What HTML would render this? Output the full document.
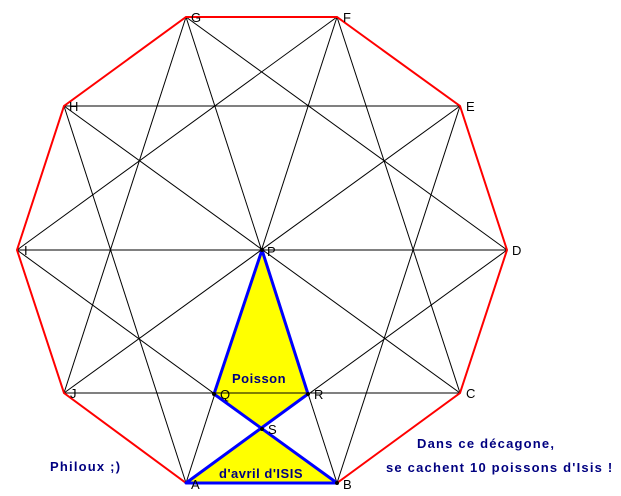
<!DOCTYPE html>
<html><head><meta charset="utf-8"><style>
html,body{margin:0;padding:0;background:#fff;}
svg{display:block;}
.v{font-family:"Liberation Sans",sans-serif;font-size:13px;fill:#000;}
.t{font-family:"Liberation Sans",sans-serif;font-size:13px;font-weight:bold;fill:#000080;letter-spacing:1.2px;}
.s{letter-spacing:0.5px;}
</style></head><body>
<svg width="621" height="496" viewBox="0 0 621 496" xmlns="http://www.w3.org/2000/svg">
<polygon points="262,250 214,394 262,429 308,394" fill="#ffff00"/>
<polygon points="186,483 262,429 337,483" fill="#ffff00"/>
<g stroke="#000" stroke-width="1" fill="none">
<line x1="64" y1="106" x2="460" y2="106"/>
<line x1="17" y1="250" x2="507" y2="250"/>
<line x1="64" y1="393" x2="460" y2="393"/>
<line x1="186" y1="483" x2="337" y2="17"/>
<line x1="337" y1="483" x2="186" y2="17"/>
<line x1="460" y1="393" x2="64" y2="106"/>
<line x1="460" y1="106" x2="64" y2="393"/>
<line x1="186" y1="483" x2="507" y2="250"/>
<line x1="186" y1="483" x2="64" y2="106"/>
<line x1="337" y1="483" x2="460" y2="106"/>
<line x1="337" y1="483" x2="17" y2="250"/>
<line x1="460" y1="393" x2="337" y2="17"/>
<line x1="507" y1="250" x2="186" y2="17"/>
<line x1="337" y1="17" x2="17" y2="250"/>
<line x1="186" y1="17" x2="64" y2="393"/>
</g>
<polygon points="186,483 337,483 460,393 507,250 460,106 337,17 186,17 64,106 17,250 64,393" fill="none" stroke="#ff0000" stroke-width="2"/>
<g stroke="#0000ff" stroke-width="3" fill="none" stroke-linejoin="round">
<polyline points="337,483 214,394 262,250 308,394 186,483 337,483"/>
</g>
<g fill="#000">
<circle cx="262" cy="250" r="2"/><circle cx="214" cy="394" r="2"/><circle cx="308" cy="394" r="2"/><circle cx="262" cy="429" r="2"/><circle cx="337" cy="483" r="2"/>
</g>
<text class="v" x="191" y="22">G</text>
<text class="v" x="343" y="22">F</text>
<text class="v" x="466" y="111">E</text>
<text class="v" x="512" y="255">D</text>
<text class="v" x="466" y="398">C</text>
<text class="v" x="343" y="489">B</text>
<text class="v" x="191" y="489">A</text>
<text class="v" x="70" y="398">J</text>
<text class="v" x="24" y="255">I</text>
<text class="v" x="69" y="111">H</text>
<text class="v" x="267" y="256">P</text>
<text class="v" x="220" y="399">Q</text>
<text class="v" x="314" y="399">R</text>
<text class="v" x="268" y="434">S</text>
<text class="t s" x="232" y="383">Poisson</text>
<text class="t s" x="219" y="478">d'avril d'ISIS</text>
<text class="t" x="50" y="471">Philoux ;)</text>
<text class="t" x="417" y="448">Dans ce décagone,</text>
<text class="t" x="386" y="472">se cachent 10 poissons d'Isis !</text>
</svg>
</body></html>
